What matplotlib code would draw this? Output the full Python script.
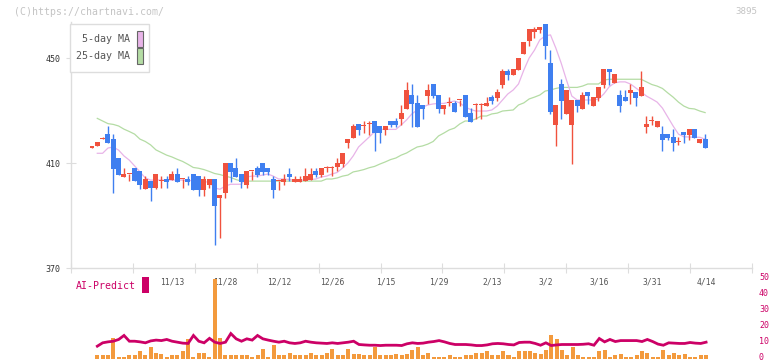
import numpy as np
import matplotlib
matplotlib.use("Agg")
import matplotlib.pyplot as plt
from matplotlib.patches import Rectangle
from matplotlib.transforms import blended_transform_factory, ScaledTranslation

nan = np.nan

# ------------------ daily candles (index 0 = first session shown) ------------------
opens = [415.9, 416.5, 419.1, 421.0, 419.1, 411.9, 404.8, 405.7, 408.1, 407.0,
         400.0, 403.1, 400.6, 403.0, 403.9, 403.6, 405.8, 403.8, 403.9, 405.8,
         405.1, 399.7, 401.6, 403.9, 396.8, 398.7, 410.0, 408.1, 405.8, 401.6,
         406.9, 408.1, 410.0, 408.1, 403.9, 403.0, 402.8, 405.8, 402.8, 402.8,
         403.1, 403.5, 407.0, 405.4, 408.0, 408.0, 408.5, 409.6, 417.6, 419.5,
         424.9, 424.0, 424.8, 426.0, 424.1, 422.6, 426.0, 426.0, 426.8, 430.6,
         435.9, 432.9, 432.1, 435.5, 440.1, 435.9, 430.6, 432.8, 432.9, 433.9,
         435.9, 429.1, 432.0, 432.0, 431.7, 435.2, 434.8, 439.7, 445.1, 443.5,
         445.4, 451.5, 456.5, 459.9, 460.7, 462.9, 448.1, 424.5, 440.1, 428.7,
         424.5, 434.0, 430.6, 437.1, 431.7, 434.8, 439.7, 445.8, 440.5, 435.9,
         435.2, 436.7, 437.1, 435.5, 423.7, 425.9, 423.7, 421.0, 421.0, 419.9,
         417.9, 421.8, 420.7, 423.0, 417.6, 419.1]
highs = [416.0, 418.0, 419.9, 424.2, 421.0, 411.9, 408.1, 405.8, 408.1, 407.0,
         405.1, 403.1, 405.8, 405.1, 405.1, 407.0, 408.1, 403.9, 405.1, 405.8,
         405.1, 405.1, 403.9, 403.9, 397.8, 410.0, 410.0, 411.9, 405.8, 407.0,
         407.0, 408.9, 410.0, 408.1, 405.1, 403.1, 405.8, 408.1, 405.1, 405.1,
         408.1, 408.1, 408.1, 408.1, 408.9, 408.9, 411.9, 413.8, 419.1, 424.9,
         424.9, 426.0, 426.0, 426.0, 424.1, 424.1, 426.0, 427.1, 432.1, 440.9,
         440.1, 435.9, 432.1, 440.1, 440.1, 435.9, 432.1, 435.2, 433.6, 434.0,
         435.9, 430.9, 432.9, 432.9, 435.2, 435.9, 438.2, 445.8, 445.8, 445.8,
         450.0, 456.1, 461.0, 461.8, 461.8, 462.9, 453.1, 432.1, 442.0, 437.8,
         434.0, 434.0, 437.1, 437.1, 435.2, 439.0, 445.8, 445.8, 443.9, 437.8,
         437.8, 440.1, 437.1, 445.1, 427.9, 427.9, 426.0, 424.1, 421.0, 423.0,
         419.9, 421.8, 423.0, 423.0, 419.1, 421.0]
lows = [415.9, 416.5, 419.1, 417.7, 398.7, 405.5, 404.8, 403.0, 403.0, 400.0,
        400.0, 395.6, 400.0, 400.6, 400.6, 403.6, 402.8, 400.6, 401.6, 399.7,
        397.4, 397.4, 400.5, 378.8, 381.5, 396.8, 402.8, 404.7, 400.5, 400.5,
        403.5, 404.7, 405.4, 405.4, 396.7, 399.7, 401.6, 403.1, 402.8, 402.8,
        403.1, 403.5, 404.7, 404.7, 406.6, 405.1, 407.0, 408.5, 415.7, 419.5,
        420.7, 421.4, 420.7, 414.6, 417.6, 420.7, 423.7, 423.7, 424.5, 430.6,
        423.7, 423.7, 426.8, 432.5, 434.8, 429.1, 428.7, 431.7, 429.4, 431.7,
        427.5, 425.6, 426.8, 426.8, 431.7, 432.5, 433.6, 438.6, 441.6, 443.5,
        445.4, 451.5, 454.6, 457.6, 459.5, 449.6, 428.7, 416.5, 426.8, 428.7,
        409.6, 429.4, 430.6, 432.5, 431.7, 433.6, 438.6, 439.7, 440.5, 429.4,
        433.6, 432.5, 431.7, 435.5, 421.4, 424.5, 423.7, 414.6, 418.8, 414.6,
        416.9, 417.6, 418.8, 419.5, 417.6, 415.7]
closes = [416.0, 418.0, 419.2, 417.7, 407.7, 405.5, 405.8, 405.8, 403.0, 401.7,
          403.9, 400.6, 405.8, 403.1, 402.8, 405.8, 402.8, 403.9, 402.8, 399.7,
          399.7, 403.9, 403.9, 393.6, 397.8, 410.0, 406.6, 404.7, 402.8, 407.0,
          407.0, 405.4, 406.6, 406.6, 399.7, 403.1, 403.9, 404.7, 403.9, 403.9,
          405.1, 405.8, 405.4, 408.1, 408.1, 408.1, 410.0, 413.8, 419.1, 424.1,
          422.6, 424.1, 424.9, 421.4, 421.4, 424.1, 424.5, 424.5, 429.1, 437.8,
          432.5, 423.7, 430.6, 437.8, 435.5, 430.6, 432.1, 432.9, 429.4, 434.0,
          427.5, 425.6, 432.1, 432.1, 432.9, 433.6, 437.1, 445.1, 443.5, 445.8,
          450.0, 456.1, 461.0, 461.0, 461.8, 454.6, 429.4, 432.1, 433.6, 437.8,
          434.0, 431.7, 435.9, 435.5, 435.2, 439.0, 445.8, 444.7, 443.9, 431.7,
          433.6, 437.8, 434.8, 439.0, 424.9, 426.0, 426.0, 418.8, 419.5, 417.6,
          418.0, 420.7, 423.0, 419.5, 419.1, 415.7]

# moving averages as drawn on the chart
ma5 = [nan, 413.7, 413.7, 415.7, 416.1, 414.9, 412.7, 411.1, 408.9, 406.6,
       404.3, 403.5, 403.5, 403.5, 403.5, 403.5, 403.5, 403.5, 403.5, 403.1,
       402.8, 402.8, 402.8, 400.5, 400.0, 401.2, 401.9, 401.9, 401.9, 404.7,
       405.0, 405.0, 405.4, 405.8, 405.0, 403.9, 403.9, 403.7, 403.5, 403.5,
       403.5, 403.7, 403.9, 404.7, 405.0, 405.8, 406.4, 408.1, 410.0, 412.7,
       416.1, 418.0, 419.9, 421.9, 422.8, 422.8, 422.8, 422.8, 424.5, 426.4,
       428.7, 430.2, 431.3, 432.1, 432.5, 432.7, 432.7, 433.2, 433.6, 432.9,
       431.3, 430.4, 429.8, 429.8, 429.8, 430.2, 431.7, 434.0, 436.3, 437.8,
       440.1, 445.4, 450.0, 453.0, 456.9, 458.4, 458.8, 453.8, 448.1, 441.6,
       435.5, 434.0, 434.0, 434.0, 434.0, 434.4, 436.3, 439.0, 440.5, 440.9,
       440.9, 440.1, 438.6, 437.1, 435.5, 434.4, 433.2, 430.9, 427.5, 424.1,
       421.0, 420.0, 419.9, 419.8, 419.8, 419.1]
ma25 = [nan, 427.0, 426.0, 425.0, 424.7, 424.1, 422.9, 422.0, 421.0, 419.1,
        418.2, 416.9, 415.0, 414.0, 413.0, 412.3, 411.4, 410.6, 409.5, 408.3,
        408.0, 407.5, 406.8, 406.0, 405.6, 405.0, 404.5, 403.7, 403.1, 403.1,
        403.1, 403.1, 403.1, 403.1, 403.1, 403.1, 403.1, 403.1, 403.1, 403.1,
        403.1, 403.1, 403.1, 403.1, 403.9, 403.9, 404.3, 405.0, 405.4, 406.6,
        407.0, 407.5, 408.2, 408.7, 409.6, 410.4, 411.3, 411.9, 413.0, 413.8,
        415.0, 416.1, 416.5, 417.2, 418.2, 420.3, 421.4, 422.6, 423.3, 424.9,
        426.0, 426.0, 426.8, 427.9, 427.9, 428.7, 429.0, 429.8, 430.0, 430.2,
        432.1, 432.9, 434.4, 435.1, 435.9, 437.4, 437.8, 438.4, 438.8, 438.8,
        438.8, 438.8, 439.3, 440.1, 440.1, 440.1, 441.6, 441.9, 441.9, 441.9,
        441.9, 441.9, 441.9, 441.9, 440.9, 439.9, 439.3, 438.4, 436.7, 435.1,
        433.2, 431.7, 430.8, 430.6, 429.8, 429.2]

# lower panel: volume bars and AI-Predict line (0-50 scale)
volume = [nan, 1.9, 1.9, 2.5, 13.1, 1.25, 1.25, 1.9, 2.5, 4.4,
          1.9, 7.5, 3.75, 3.1, 1.25, 2.5, 1.9, 4.4, 12.5, 1.25,
          3.75, 3.75, 1.25, 50.0, 13.1, 2.5, 2.5, 1.9, 1.9, 2.5,
          1.25, 1.9, 6.25, 1.25, 8.75, 1.9, 1.9, 3.75, 1.9, 1.9,
          1.9, 3.75, 2.5, 1.9, 3.75, 6.25, 2.5, 1.9, 6.25, 3.1,
          3.1, 2.5, 2.5, 7.5, 2.5, 1.9, 2.5, 3.1, 2.5, 3.1,
          5.6, 7.5, 2.5, 3.75, 1.25, 1.25, 1.25, 1.9, 1.25, 1.25,
          1.9, 1.9, 3.75, 3.75, 5.0, 2.5, 2.5, 5.0, 1.9, 1.25,
          4.4, 4.4, 4.4, 3.75, 3.1, 5.6, 14.4, 11.9, 5.6, 2.5,
          7.5, 1.9, 1.25, 1.25, 1.25, 4.4, 5.6, 1.25, 1.9, 3.1,
          1.25, 1.25, 1.9, 4.4, 3.75, 1.25, 1.25, 5.6, 1.9, 3.75,
          2.5, 3.1, 1.25, 1.25, 1.9, 2.5]
ai_predict = [nan, 7.7, 9.8, 10.4, 10.8, 11.9, 14.4, 10.8, 10.8, 10.4,
              9.8, 11.0, 11.5, 11.2, 11.9, 10.8, 10.2, 9.6, 9.4, 14.4,
              10.8, 9.8, 12.6, 10.2, 9.4, 10.2, 15.6, 12.3, 10.8, 12.3,
              11.5, 14.4, 12.3, 11.5, 10.8, 10.2, 10.8, 9.8, 9.4, 9.8,
              10.8, 10.2, 9.8, 9.6, 9.4, 9.8, 9.4, 9.8, 10.2, 10.8,
              8.75, 8.5, 8.3, 8.3, 8.1, 8.3, 8.3, 8.3, 8.1, 9.2,
              9.8, 9.4, 9.6, 10.2, 10.6, 11.2, 10.4, 9.4, 8.75, 8.75,
              8.75, 8.5, 8.1, 8.1, 8.5, 9.2, 9.4, 9.2, 8.75, 8.5,
              10.0, 10.2, 10.2, 9.4, 8.3, 9.8, 8.1, 8.5, 8.75, 8.75,
              8.75, 8.75, 8.9, 9.2, 8.3, 12.5, 10.4, 11.9, 10.6, 11.2,
              11.2, 11.2, 11.2, 10.6, 11.9, 10.6, 9.0, 8.3, 9.8, 9.6,
              9.4, 9.4, 10.0, 9.6, 9.4, 10.2]

date_labels = ["11/13", "11/28", "12/12", "12/26", "1/15", "1/29",
               "2/13", "3/2", "3/16", "3/31", "4/14"]
date_pos = [15, 25, 35, 45, 55, 65, 75, 85, 95, 105, 115]
price_ticks = [370, 410, 450]
ai_ticks = [0, 10, 20, 30, 40, 50]

# ------------------ styling ------------------
RED = "#f0523e"
BLUE = "#3f7ff0"
PINK = "#e8b4e8"
GREEN = "#b4dca4"
ORANGE = "#f39a3d"
MAGENTA = "#cc0066"
AXIS = "#dddddd"
MONO = "DejaVu Sans Mono"

W, H = 772, 361
fig = plt.figure(figsize=(W / 100, H / 100), dpi=100)
fig.patch.set_facecolor("white")


def fx(px):
    return px / W


def fy(py):
    return 1 - py / H


x = np.arange(len(closes))
xlim = (-3.93, 123.6)

# ------------------ price panel ------------------
ax = fig.add_axes([fx(71), fy(268), fx(752) - fx(71), fy(22) - fy(268)])
ax.set_xlim(*xlim)
ax.set_ylim(370, 370 + (268 - 22) / 2.625)

ax.plot(x, ma25, color=GREEN, lw=0.9, zorder=1)
ax.plot(x, ma5, color=PINK, lw=0.9, zorder=1)

o = np.array(opens)
c = np.array(closes)
up = c >= o
cols = np.where(up, RED, BLUE)
ax.vlines(x, lows, highs, colors=cols, lw=1.0, zorder=2)
body_h = np.maximum(np.abs(c - o), 0.45)
ax.bar(x, body_h, bottom=np.minimum(o, c), width=0.92, color=cols,
       linewidth=0, zorder=3)

for s in ["top", "right"]:
    ax.spines[s].set_visible(False)
for s in ["left", "bottom"]:
    ax.spines[s].set_color(AXIS)
    ax.spines[s].set_linewidth(1.0)
ax.set_yticks(price_ticks)
ax.set_yticklabels([str(t) for t in price_ticks], fontfamily=MONO)
ax.tick_params(axis="y", direction="inout", length=7, width=0.8, color=AXIS,
               labelsize=6, labelcolor="#333333", pad=4)
ax.set_xticks(np.arange(xlim[0] + 0.01, 124, 62 / 5.34))
ax.tick_params(axis="x", direction="inout", length=7, width=0.8, color=AXIS,
               labelbottom=False)
ax.patch.set_alpha(0)

# ------------------ volume / AI-Predict panel ------------------
axv = fig.add_axes([fx(71), 0, fx(752) - fx(71), fy(277)])
axv.set_xlim(*xlim)
scale = 1.6                      # pixels per unit on the 0-50 scale
y0 = -(361 - 358.5) / scale
axv.set_ylim(y0, y0 + 84 / scale)
axv.bar(x, volume, width=0.75, color=ORANGE, linewidth=0, zorder=2)
axv.plot(x, ai_predict, color=MAGENTA, lw=2.0, zorder=3,
         solid_joinstyle="miter")
for s in axv.spines.values():
    s.set_visible(False)
axv.set_xticks([])
axv.yaxis.tick_right()
axv.set_yticks(ai_ticks)
axv.set_yticklabels([str(t) for t in ai_ticks], fontfamily=MONO)
axv.tick_params(axis="y", length=0, pad=5, labelsize=6, labelcolor=MAGENTA)
axv.patch.set_alpha(0)
# lift the right-hand labels a little so "0" stays inside the picture
lift = ScaledTranslation(0, 1.5 / 100, fig.dpi_scale_trans)
for lab in axv.get_yticklabels():
    lab.set_transform(lab.get_transform() + lift)

tr = blended_transform_factory(axv.transData, axv.transAxes)
for p, lab in zip(date_pos, date_labels):
    axv.text(p, (361 - 282) / 84, lab, transform=tr, ha="center", va="center",
             fontsize=5.8, color="#555555", fontfamily=MONO, zorder=1)

# AI-Predict tag
fig.text(fx(76), fy(286), "AI-Predict", ha="left", va="center", fontsize=7.1,
         color=MAGENTA, fontfamily=MONO)
fig.add_artist(Rectangle((fx(142), fy(293)), fx(7), 16 / H,
                         transform=fig.transFigure, fc=MAGENTA, ec="none"))

# ------------------ legend box ------------------
fig.add_artist(Rectangle((fx(70), fy(72)), fx(79), 48 / H,
                         transform=fig.transFigure, fc="white", ec=AXIS,
                         lw=1.0, zorder=5))
for ty, lab, col in [(39, "5-day MA", PINK), (56, "25-day MA", GREEN)]:
    fig.text(fx(130), fy(ty), lab, ha="right", va="center", fontsize=7.2,
             color="#555555", fontfamily=MONO, zorder=6)
    fig.add_artist(Rectangle((fx(136.5), fy(ty + 7.5)), fx(6), 15 / H,
                             transform=fig.transFigure, fc=col, ec="#666666",
                             lw=0.8, zorder=6))

# header texts
fig.text(fx(14), fy(12), "(C)https://chartnavi.com/", ha="left", va="center",
         fontsize=7.1, color="#c4c4c4", fontfamily=MONO)
fig.text(fx(757), fy(11), "3895", ha="right", va="center", fontsize=6.6,
         color="#c4c4c4", fontfamily=MONO)

fig.savefig("out.png", dpi=100, facecolor="white")
